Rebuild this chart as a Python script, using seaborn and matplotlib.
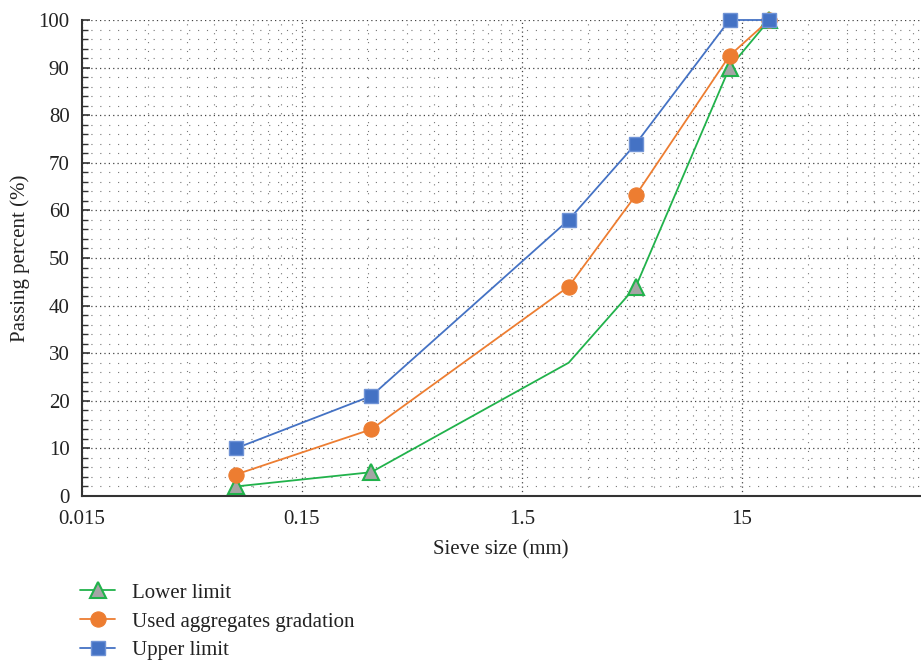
import numpy as np
import pandas as pd
import matplotlib
matplotlib.use("Agg")
import matplotlib.pyplot as plt
import seaborn as sns
from matplotlib.ticker import FixedLocator, NullFormatter, MultipleLocator

# ---- data ----
sieve_sizes = [0.075, 0.31, 2.45, 4.95, 13.2, 20.0]
lower_limit = [2, 5, 28, 44, 90, 100]
used_gradation = [4.5, 14, 44, 63.2, 92.5, 100]
upper_limit = [10, 21, 58, 74, 100, 100]
lower_marker_idx = [0, 1, 3, 4, 5]
x_tick_values = [0.015, 0.15, 1.5, 15]
x_tick_labels = ["0.015", "0.15", "1.5", "15"]
series_names = ["Lower limit", "Used aggregates gradation", "Upper limit"]

sns.set_theme(style="white")
plt.rcParams["font.family"] = ["Liberation Serif", "DejaVu Serif"]

fig = plt.figure(figsize=(9.21, 6.62), dpi=100)
ax = fig.add_axes([82 / 921, 1 - 496 / 662, 838 / 921, 476 / 662])

blue = "#4472C4"
orange = "#ED7D31"
green = "#21B24B"

sns.lineplot(x=sieve_sizes, y=lower_limit, ax=ax, color=green, lw=1.3,
             marker="^", markersize=12, markerfacecolor="#A5A5A5",
             markeredgecolor=green, markeredgewidth=1.5,
             markevery=lower_marker_idx, label=series_names[0], zorder=3,
             clip_on=False)
sns.lineplot(x=sieve_sizes, y=used_gradation, ax=ax, color=orange, lw=1.3,
             marker="o", markersize=11, markerfacecolor=orange,
             markeredgecolor=orange, label=series_names[1], zorder=4,
             clip_on=False)
sns.lineplot(x=sieve_sizes, y=upper_limit, ax=ax, color=blue, lw=1.3,
             marker="s", markersize=10.5, markerfacecolor=blue,
             markeredgecolor="#6F93D6", markeredgewidth=1.0,
             label=series_names[2], zorder=5, clip_on=False)

ax.set_xscale("log")
ax.set_xlim(0.015, 97)
ax.set_ylim(0, 100)

ax.set_xticks(x_tick_values)
ax.set_xticklabels(x_tick_labels)
minors = [k * t for t in x_tick_values for k in range(2, 10)]
ax.xaxis.set_minor_locator(FixedLocator(minors))
ax.xaxis.set_minor_formatter(NullFormatter())

ax.yaxis.set_major_locator(MultipleLocator(10))
ax.yaxis.set_minor_locator(MultipleLocator(2))

ax.grid(True, which="major", axis="both", color="#444444", lw=0.9, ls=(0, (1, 2.5)))
ax.grid(True, which="minor", axis="both", color="#777777", lw=0.8, ls=(0, (1, 7)))
ax.set_axisbelow(True)

for s in ["top", "right"]:
    ax.spines[s].set_visible(False)
for s in ["left", "bottom"]:
    ax.spines[s].set_color("#333333")
    ax.spines[s].set_linewidth(1.5)

ax.tick_params(axis="y", which="major", direction="in", length=6, width=1.2,
               color="#333333", labelsize=15, labelcolor="#222222", pad=9, left=True)
ax.tick_params(axis="y", which="minor", direction="in", length=4, width=1.0,
               color="#333333", left=True)
ax.tick_params(axis="x", which="both", length=0, labelsize=15, labelcolor="#222222", pad=10)

ax.set_xlabel("Sieve size (mm)", fontsize=15, color="#222222", labelpad=8)
ax.set_ylabel("Passing percent (%)", fontsize=15, color="#222222", labelpad=6)

leg = ax.legend(loc="upper left", bbox_to_anchor=(80 / 921, 1 - 583 / 662),
                bbox_transform=fig.transFigure, frameon=False, fontsize=15,
                handlelength=1.7, handletextpad=0.8, labelspacing=0.45,
                borderpad=0, borderaxespad=0)
for t in leg.get_texts():
    t.set_color("#222222")

fig.savefig("out.png", dpi=100)
